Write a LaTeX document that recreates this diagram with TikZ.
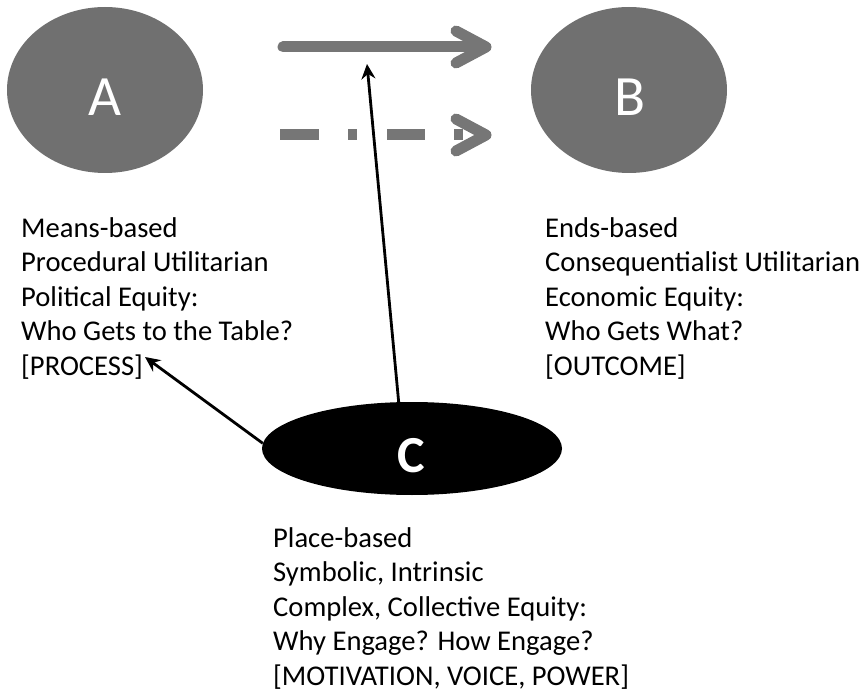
\documentclass[tikz,border=0pt]{standalone}
\usepackage{fontspec}
\setmainfont{Carlito}
\usetikzlibrary{arrows.meta,shapes.geometric}
\definecolor{ellgray}{RGB}{112,112,112}
\definecolor{arrgray}{RGB}{118,118,118}
\begin{document}
\begin{tikzpicture}[x=1pt,y=-1pt,
  oval/.style={ellipse,inner sep=0pt,fill=ellgray},
  letter/.style={text=white,font=\fontsize{57}{60}\selectfont,inner sep=0pt},
  infotext/.style={align=left,anchor=base west,inner sep=0pt,font=\fontsize{28.6}{34.5}\selectfont},
  bigarrow/.style={draw=arrgray,line width=11pt},
  chevron/.style={draw=arrgray,line width=11pt,line cap=round,line join=round},
  thinarrow/.style={draw=black,line width=2.8pt,-{Stealth[length=15pt,width=14pt,inset=5pt]}}
]
\useasboundingbox (0,0) rectangle (868,695);

% ellipses
\node[oval,minimum width=196pt,minimum height=166pt] (A) at (105,90) {};
\node[oval,minimum width=196pt,minimum height=166pt] (B) at (629,90) {};
\node[ellipse,inner sep=0pt,fill=black,minimum width=300pt,minimum height=93pt] (C) at (412,448.5) {};

\node[letter] (Alab) at (105,97) {A};
\node[letter] (Blab) at (630,97) {B};
\node[letter,font=\bfseries\fontsize{52}{56}\selectfont] (Clab) at (411,456) {C};

% solid arrow
\coordinate (s1) at (283,47);
\coordinate (s2) at (484,47);
\coordinate (h1) at (456,31);
\coordinate (h2) at (486,47);
\coordinate (h3) at (456,63);
\draw[bigarrow,line cap=round] (s1) -- (s2);
\draw[chevron] (h1) -- (h2) -- (h3);

% dashed arrow
\coordinate (d1) at (280,135);
\coordinate (d2) at (319,135);
\coordinate (d3) at (348,135);
\coordinate (d4) at (357,135);
\coordinate (d5) at (387,135);
\coordinate (d6) at (425,135);
\coordinate (d7) at (454,135);
\coordinate (d8) at (463,135);
\coordinate (g1) at (456,119);
\coordinate (g2) at (486,135);
\coordinate (g3) at (456,151);
\draw[bigarrow] (d1) -- (d2);
\draw[bigarrow] (d3) -- (d4);
\draw[bigarrow] (d5) -- (d6);
\draw[bigarrow] (d7) -- (d8);
\draw[chevron] (g1) -- (g2) -- (g3);

% texts (anchor = baseline of last line)
\node[infotext] (Atext) at (21,375) {Means-based\\Procedural Utilitarian\\Political Equity:\\Who Gets to the Table?\\{[PROCESS]}};
\node[infotext] (Btext) at (545,375) {Ends-based\\Consequentialist Utilitarian\\Economic Equity:\\Who Gets What?\\{[OUTCOME]}};
\node[infotext] (Ctext) at (273,685) {Place-based\\Symbolic, Intrinsic\\Complex, Collective Equity:\\Why Engage? How Engage?\\{[MOTIVATION, VOICE, POWER]}};

% thin arrows
\coordinate (ontop) at (367,64);
\coordinate (procend) at (145,357);
\draw[thinarrow] (C.106) -- (ontop);
\draw[thinarrow] (C.178) -- (procend);
\end{tikzpicture}
\end{document}
